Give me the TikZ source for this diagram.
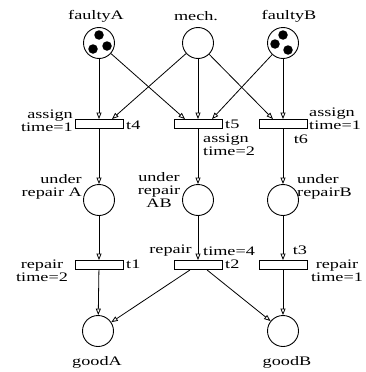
\documentclass[tikz,border=0pt]{standalone}
\usepackage{fontspec}
\setmainfont{Liberation Serif}[FakeStretch=1.4]
\usetikzlibrary{arrows.meta}
\begin{document}
\begin{tikzpicture}[x=1pt,y=-1pt,
  place/.style={circle,draw,line width=0.9pt,minimum size=31pt,inner sep=0pt},
  trans/.style={rectangle,draw,line width=0.9pt,minimum width=48pt,minimum height=9pt,inner sep=0pt},
  token/.style={circle,fill,inner sep=0pt,minimum size=9.5pt},
  arc/.style={line width=0.8pt,-{Triangle[open,length=6.5pt,width=5pt]}},
  lbl/.style={inner sep=0pt,font=\fontsize{13}{13}\selectfont},
]
\fill[white] (0,0) rectangle (366,372);
\useasboundingbox (0,0) rectangle (366,372);

% places of the first row with their tokens
\node[place] (fA) at (99,43) {};
\node[place] (mech) at (198,43) {};
\node[place] (fB) at (283,43) {};
\node[token] (fA1) at (99,35) {};
\node[token] (fA2) at (93,49) {};
\node[token] (fA3) at (107,46) {};
\node[token] (fB1) at (283,35) {};
\node[token] (fB2) at (275,44) {};
\node[token] (fB3) at (288,50) {};
\node[lbl] (lfA) at (96,16) {faultyA};
\node[lbl] (lmech) at (196,16) {mech.};
\node[lbl] (lfB) at (289,16) {faultyB};

% assignment transitions
\node[trans] (t4) at (99,124) {};
\node[trans] (t5) at (198,124) {};
\node[trans] (t6) at (283,124) {};
\node[lbl,align=right,anchor=east] (a4) at (73,121) {assign\\time=1};
\node[lbl,anchor=west] (n4) at (126,125) {t4};
\node[lbl,anchor=west] (n5) at (225,124) {t5};
\node[lbl,align=left,anchor=west] (a5) at (203,145) {assign\\time=2};
\node[lbl,align=left,anchor=west] (a6) at (309,119) {assign\\time=1};
\node[lbl] (n6) at (301,139) {t6};

% places under repair
\node[place] (uA) at (99,200) {};
\node[place] (uAB) at (198,200) {};
\node[place] (uB) at (283,200) {};
\node[lbl,align=right,anchor=east] (luA) at (82,187) {under\\repair A};
\node[lbl,align=center] (luAB) at (159,190) {under\\repair\\AB};
\node[lbl,align=left,anchor=west] (luB) at (297,187) {under\\repairB};

% repair transitions
\node[trans] (t1) at (99,265) {};
\node[trans] (t2) at (198,265) {};
\node[trans] (t3) at (283,265) {};
\node[lbl,align=center] (r1) at (42,271) {repair\\time=2};
\node[lbl,anchor=west] (n1) at (126,264) {t1};
\node[lbl,anchor=east] (r2a) at (192,251) {repair};
\node[lbl,anchor=west] (r2b) at (203,251) {time=4};
\node[lbl,anchor=west] (n2) at (225,264) {t2};
\node[lbl] (n3) at (300,250) {t3};
\node[lbl,align=center] (r3) at (337,271) {repair\\time=1};

% repaired places
\node[place] (gA) at (98,331) {};
\node[place] (gB) at (283,331) {};
\node[lbl] (lgA) at (97,362) {goodA};
\node[lbl] (lgB) at (287,362) {goodB};

% arcs
\draw[arc] (fA) -- (t4);
\draw[arc] (fA) -- ([xshift=-13pt]t5.north);
\draw[arc] (mech) -- ([xshift=13pt]t4.north);
\draw[arc] (mech) -- (t5);
\draw[arc] (mech) -- ([xshift=-10pt]t6.north);
\draw[arc] (fB) -- ([xshift=14pt]t5.north);
\draw[arc] (fB) -- (t6);
\draw[arc] (t4) -- (uA);
\draw[arc] (t5) -- (uAB);
\draw[arc] (t6) -- (uB);
\draw[arc] (uA) -- (t1);
\draw[arc] (uAB) -- (t2);
\draw[arc] (uB) -- (t3);
\draw[arc] (t1) -- (gA);
\draw[arc] (t3) -- (gB);
\draw[arc] ([xshift=-8pt]t2.south) -- (gA);
\draw[arc] ([xshift=9pt]t2.south) -- (gB);
\end{tikzpicture}
\end{document}
